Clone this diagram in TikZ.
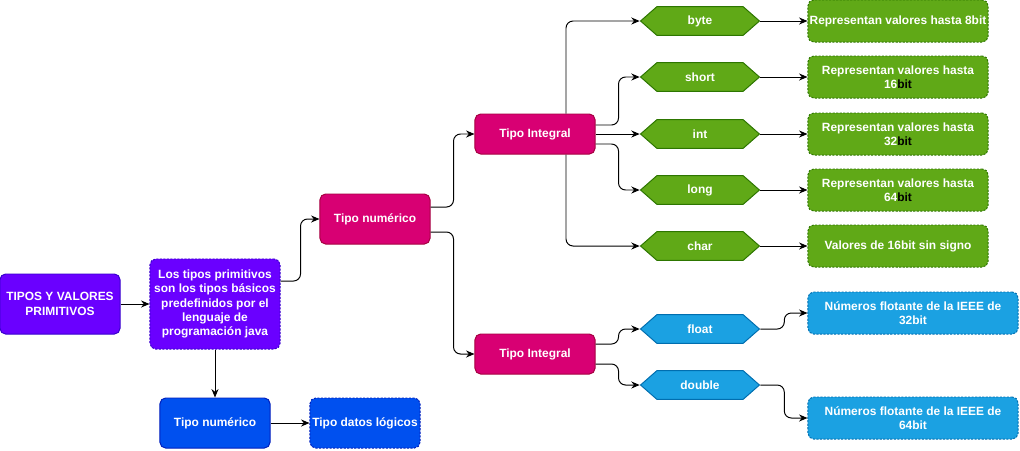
\documentclass[tikz,border=0pt]{standalone}
\usepackage{fontspec}
\setmainfont{Liberation Sans}
\usetikzlibrary{arrows.meta,calc}
\newcommand{\diagfont}{\fontsize{8.5}{10.2}\selectfont\bfseries}
\begin{document}
\begin{tikzpicture}[x=0.025cm,y=-0.025cm,
  box/.style 2 args={rounded corners=4pt,fill=#1,draw=#2,line width=0.7pt,text=white,
    align=center,font=\diagfont,inner sep=0.5pt},
  dashbox/.style 2 args={box={#1}{#2},dash pattern=on 1.5pt off 1pt},
  hexbox/.style 2 args={minimum width=3cm,minimum height=0.75cm,inner sep=0pt,
    text=white,font=\diagfont,
    path picture={\draw[fill=#1,draw=#2,line width=0.7pt]
      ([xshift=0.4pt]path picture bounding box.west) --
      ([xshift=0.425cm,yshift=-0.4pt]path picture bounding box.north west) --
      ([xshift=-0.425cm,yshift=-0.4pt]path picture bounding box.north east) --
      ([xshift=-0.4pt]path picture bounding box.east) --
      ([xshift=-0.425cm,yshift=0.4pt]path picture bounding box.south east) --
      ([xshift=0.425cm,yshift=0.4pt]path picture bounding box.south west) -- cycle;}},
  conn/.style={draw=black,line width=0.7pt,rounded corners=5pt,
    -{Stealth[length=6pt,width=5pt]}}]
\definecolor{purplefill}{RGB}{106,0,255}
\definecolor{purpleline}{RGB}{55,0,204}
\definecolor{pinkfill}{RGB}{216,0,115}
\definecolor{pinkline}{RGB}{165,0,64}
\definecolor{greenfill}{RGB}{96,169,23}
\definecolor{greenline}{RGB}{45,118,0}
\definecolor{bluefill}{RGB}{27,161,226}
\definecolor{blueline}{RGB}{0,110,175}
\definecolor{cobaltfill}{RGB}{0,80,239}
\definecolor{cobaltline}{RGB}{0,29,188}
\useasboundingbox (0,0) rectangle (1020,450);
% left column
\node (tipos) [box={purplefill}{purpleline},minimum width=3cm,minimum height=1.5cm] at (60,304)
  {TIPOS Y VALORES\\PRIMITIVOS};
\node (desc) [dashbox={purplefill}{purpleline},minimum width=3.25cm,minimum height=2.25cm] at (215,304)
  {Los tipos primitivos\\son los tipos b\'asicos\\predefinidos por el\\lenguaje de\\programaci\'on java};
\node (numlog) [box={cobaltfill}{cobaltline},minimum width=2.75cm,minimum height=1.25cm] at (215,423)
  {Tipo num\'erico};
\node (logicos) [dashbox={cobaltfill}{cobaltline},minimum width=2.75cm,minimum height=1.25cm] at (365,423)
  {Tipo datos l\'ogicos};
% numeric branch
\node (num) [box={pinkfill}{pinkline},minimum width=2.75cm,minimum height=1.25cm] at (375,219)
  {Tipo num\'erico};
\node (entero) [box={pinkfill}{pinkline},minimum width=3cm,minimum height=1cm] at (535,134)
  {Tipo Integral};
\node (flotante) [box={pinkfill}{pinkline},minimum width=3cm,minimum height=1cm] at (535,354)
  {Tipo Integral};
% integral types
\node (byte) [hexbox={greenfill}{greenline}] at (700,21) {byte};
\node (short) [hexbox={greenfill}{greenline}] at (700,77) {short};
\node (int) [hexbox={greenfill}{greenline}] at (700,134) {int};
\node (long) [hexbox={greenfill}{greenline}] at (700,190) {long};
\node (char) [hexbox={greenfill}{greenline}] at (700,246) {char};
\node (rbyte) [dashbox={greenfill}{greenline},minimum width=4.5cm,minimum height=1.05cm] at (898,21)
  {Representan valores hasta 8bit};
\node (rshort) [dashbox={greenfill}{greenline},minimum width=4.5cm,minimum height=1.05cm] at (898,77)
  {Representan valores hasta\\16\textcolor{black}{bit}};
\node (rint) [dashbox={greenfill}{greenline},minimum width=4.5cm,minimum height=1.05cm] at (898,134)
  {Representan valores hasta\\32\textcolor{black}{bit}};
\node (rlong) [dashbox={greenfill}{greenline},minimum width=4.5cm,minimum height=1.05cm] at (898,190)
  {Representan valores hasta\\64\textcolor{black}{bit}};
\node (rchar) [dashbox={greenfill}{greenline},minimum width=4.5cm,minimum height=1.05cm] at (898,246)
  {Valores de 16bit sin signo};
% floating types
\node (float) [hexbox={bluefill}{blueline}] at (700,329) {float};
\node (double) [hexbox={bluefill}{blueline}] at (700,385) {double};
\node (rfloat) [dashbox={bluefill}{blueline},minimum width=5.25cm,minimum height=1.05cm] at (913,313)
  {N\'umeros flotante de la IEEE de\\32bit};
\node (rdouble) [dashbox={bluefill}{blueline},minimum width=5.25cm,minimum height=1.05cm] at (913,418)
  {N\'umeros flotante de la IEEE de\\64bit};
% connectors
\draw [conn] (tipos) -- (desc);
\draw [conn] (desc) -- (numlog);
\draw [conn] (numlog) -- (logicos);
\draw [conn] ($(desc.east)+(0,-23)$) -- ++(20,0) |- (num.west);
\draw [conn] ($(num.east)+(0,-12)$) -- ++(23,0) |- (entero.west);
\draw [conn] ($(num.east)+(0,13)$) -- ++(23,0) |- (flotante.west);
\draw [conn] ($(entero.north)+(31,0)$) |- (byte.west);
\draw [conn] ($(entero.east)+(0,-9)$) -- ++(23,0) |- (short.west);
\draw [conn] (entero.east) -- (int.west);
\draw [conn] ($(entero.east)+(0,10)$) -- ++(23,0) |- (long.west);
\draw [conn] ($(entero.south)+(31,0)$) |- (char.west);
\draw [conn] ($(flotante.east)+(0,-10)$) -- ++(23,0) |- (float.west);
\draw [conn] ($(flotante.east)+(0,10)$) -- ++(23,0) |- (double.west);
\foreach \h in {byte,short,int,long,char}
  \draw [conn] (\h.east) -- (r\h.west);
\draw [conn] (float.east) -- ++(24,0) |- (rfloat.west);
\draw [conn] (double.east) -- ++(24,0) |- (rdouble.west);
\end{tikzpicture}
\end{document}
